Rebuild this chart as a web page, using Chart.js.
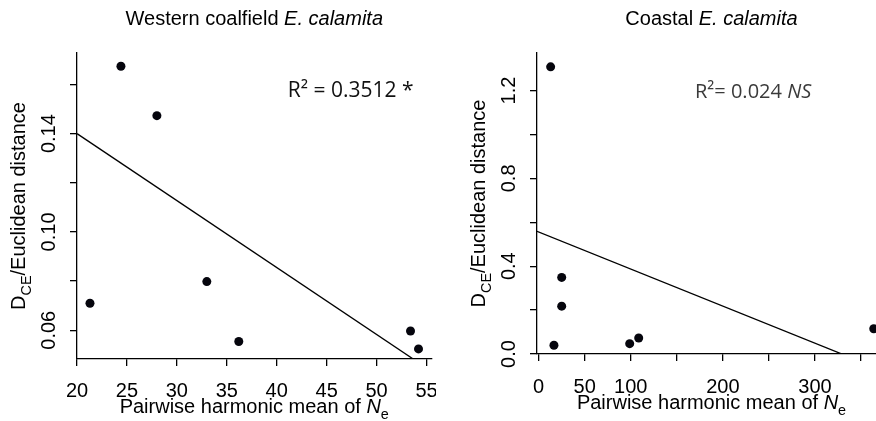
<!DOCTYPE html>
<html lang="en">
<head>
<meta charset="UTF-8">
<title>DCE/Euclidean distance vs pairwise harmonic mean of Ne</title>
<script src="https://cdn.jsdelivr.net/npm/chart.js"></script>
<style>
  html, body { margin: 0; padding: 0; background: #fff; overflow: hidden; }
  .wrap { position: relative; width: 876px; height: 421px; overflow: hidden; }
  #western { position: absolute; left: 0; top: 0; }
  #coastal { position: absolute; left: 436px; top: 0; }
</style>
</head>
<body>
<div class="wrap">
  <canvas id="western" width="436" height="421"></canvas>
  <canvas id="coastal" width="456" height="421"></canvas>
</div>
<script>
// Western coalfield populations
const westernNe   = [21.3, 24.4, 28.0, 33.0, 36.2, 53.4, 54.2];
const westernDist = [0.0710, 0.1674, 0.1473, 0.0798, 0.0554, 0.0597, 0.0524];
const westernFit  = [[20, 0.14], [55.5, 0.0433]];
const westernXTicks  = [20, 25, 30, 35, 40, 45, 50, 55];
const westernXLabels = ['20', '25', '30', '35', '40', '45', '50', '55'];
const westernYTicks  = [0.06, 0.08, 0.10, 0.12, 0.14, 0.16];
const westernYLabels = ['0.06', '', '0.10', '', '0.14', ''];

// Coastal populations
const coastalNe   = [13.0, 25.0, 25.0, 16.6, 98.8, 108.6, 363.7];
const coastalDist = [1.308, 0.349, 0.218, 0.040, 0.047, 0.073, 0.115];
const coastalFit  = [[-1.8, 0.559], [377, -0.081]];
const coastalXTicks  = [0, 50, 100, 150, 200, 250, 300, 350];
const coastalXLabels = ['0', '50', '100', '', '200', '', '300', ''];
const coastalYTicks  = [0, 0.2, 0.4, 0.6, 0.8, 1.0, 1.2];
const coastalYLabels = ['0.0', '', '0.4', '', '0.8', '', '1.2'];

const SANS = '"Liberation Sans", Arial, sans-serif';
const NOTE = '"Open Sans", sans-serif';
const FS = 20;

const xTitle = [
  { t: 'Pairwise harmonic mean of ' },
  { t: 'N', italic: true },
  { t: 'e', sub: true }
];
const yTitle = [
  { t: 'D' },
  { t: 'CE', sub: true },
  { t: '/Euclidean distance' }
];

function runFont(r, size, family) {
  const s = r.sub ? size * 0.72 : size;
  return (r.italic ? 'italic ' : '') + s + 'px ' + family;
}

// draws a sequence of text runs centred on cx (or starting at cx if left-aligned)
function drawRuns(ctx, runs, cx, cy, size, family, align) {
  let total = 0;
  runs.forEach(r => { ctx.font = runFont(r, size, family); r.w = ctx.measureText(r.t).width; total += r.w; });
  let x = align === 'left' ? cx : cx - total / 2;
  ctx.textAlign = 'left';
  ctx.textBaseline = 'alphabetic';
  runs.forEach(r => {
    ctx.font = runFont(r, size, family);
    ctx.fillText(r.t, x, cy + (r.sub ? size * 0.3 : 0));
    x += r.w;
  });
}

const rText = {
  id: 'rtext',
  afterDraw(chart, args, o) {
    const { ctx, chartArea: a, scales: { x, y } } = chart;
    const mid = (a.left + a.right) / 2;
    ctx.save();
    ctx.fillStyle = '#000';

    // tick labels
    ctx.font = FS + 'px ' + SANS;
    ctx.textAlign = 'center';
    ctx.textBaseline = 'alphabetic';
    o.xTicks.forEach((v, i) => {
      if (o.xLabels[i]) ctx.fillText(o.xLabels[i], x.getPixelForValue(v), a.bottom + o.xLabelGap);
    });
    o.yTicks.forEach((v, i) => {
      if (!o.yLabels[i]) return;
      ctx.save();
      ctx.translate(a.left - 22, y.getPixelForValue(v));
      ctx.rotate(-Math.PI / 2);
      ctx.fillText(o.yLabels[i], 0, 0);
      ctx.restore();
    });

    // panel title and axis titles
    drawRuns(ctx, o.title, mid, 25, FS, SANS);
    drawRuns(ctx, xTitle, mid, a.bottom + o.xTitleGap, FS, SANS);
    ctx.save();
    ctx.translate(a.left - 52, (a.top + a.bottom) / 2);
    ctx.rotate(-Math.PI / 2);
    drawRuns(ctx, yTitle, 0, 0, FS, SANS);
    ctx.restore();

    // regression note
    ctx.fillStyle = o.noteColor;
    drawRuns(ctx, o.note, x.getPixelForValue(o.noteAt[0]), y.getPixelForValue(o.noteAt[1]), o.noteSize, NOTE, 'left');
    ctx.restore();
  }
};

function axis(min, max, ticks, fit) {
  return {
    type: 'linear',
    min: min,
    max: max,
    afterBuildTicks: s => { s.ticks = ticks.map(v => ({ value: v })); },
    afterFit: fit,
    ticks: { display: false },
    grid: { drawOnChartArea: false, drawTicks: true, tickLength: 7, color: '#000', lineWidth: 1.3 },
    border: { display: true, color: '#000', width: 1.3 }
  };
}

function makePanel(id, c) {
  return new Chart(document.getElementById(id), {
    type: 'scatter',
    data: {
      datasets: [
        {
          data: c.xs.map((v, i) => ({ x: v, y: c.ys[i] })),
          pointRadius: 4.5,
          pointHoverRadius: 4.5,
          backgroundColor: '#05050d',
          borderWidth: 0
        },
        {
          data: c.fit.map(p => ({ x: p[0], y: p[1] })),
          showLine: true,
          borderColor: '#000',
          borderWidth: 1.3,
          pointRadius: 0
        }
      ]
    },
    options: {
      responsive: false,
      animation: false,
      devicePixelRatio: 1,
      events: [],
      layout: { padding: c.padding },
      plugins: {
        legend: { display: false },
        tooltip: { enabled: false },
        rtext: c.text
      },
      scales: {
        x: axis(c.xRange[0], c.xRange[1], c.text.xTicks, s => { s.height = c.xAxisHeight; }),
        y: axis(c.yRange[0], c.yRange[1], c.text.yTicks, s => { s.width = c.yAxisWidth; })
      }
    },
    plugins: [rText]
  });
}

makePanel('western', {
  xs: westernNe,
  ys: westernDist,
  fit: westernFit,
  xRange: [20, 55.5],
  yRange: [0.0483, 0.1728],
  padding: { top: 53, right: 4, left: 0, bottom: 0 },
  xAxisHeight: 62,
  yAxisWidth: 77,
  text: {
    xTicks: westernXTicks, xLabels: westernXLabels,
    yTicks: westernYTicks, yLabels: westernYLabels,
    xLabelGap: 37.5, xTitleGap: 54,
    title: [{ t: 'Western coalfield ' }, { t: 'E. calamita', italic: true }],
    note: [{ t: 'R\u00B2 = 0.3512 *' }],
    noteAt: [41.1, 0.1549],
    noteSize: 21,
    noteColor: '#111'
  }
});

makePanel('coastal', {
  xs: coastalNe,
  ys: coastalDist,
  fit: coastalFit,
  xRange: [-1.8, 377],
  yRange: [0, 1.371],
  padding: { top: 53, right: 6, left: 0, bottom: 0 },
  xAxisHeight: 67,
  yAxisWidth: 101,
  text: {
    xTicks: coastalXTicks, xLabels: coastalXLabels,
    yTicks: coastalYTicks, yLabels: coastalYLabels,
    xLabelGap: 38.5, xTitleGap: 55,
    title: [{ t: 'Coastal ' }, { t: 'E. calamita', italic: true }],
    note: [{ t: 'R\u00B2= 0.024 ' }, { t: 'NS', italic: true }],
    noteAt: [169.7, 1.167],
    noteSize: 20,
    noteColor: '#3a3a3a'
  }
});
</script>
</body>
</html>
